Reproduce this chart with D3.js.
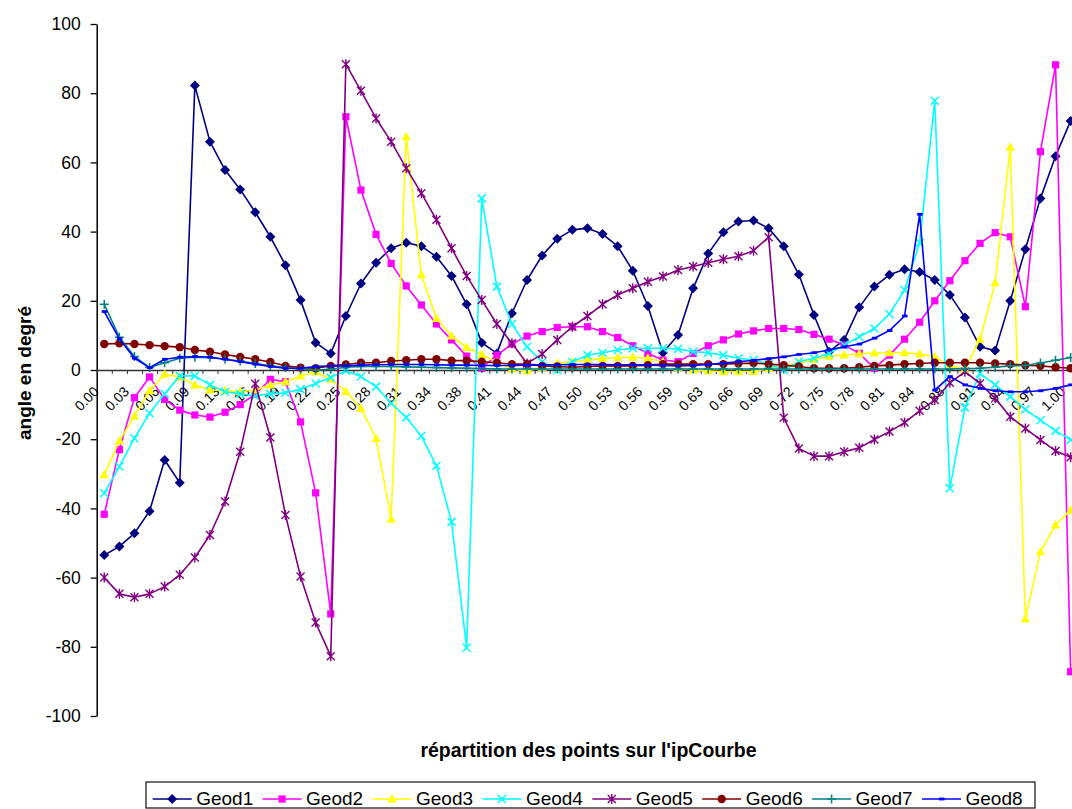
<!DOCTYPE html>
<html><head><meta charset="utf-8">
<script src="https://cdn.jsdelivr.net/npm/d3@7"></script>
<style>body{margin:0;background:#fff} svg{display:block;font-family:"Liberation Sans",Arial,sans-serif}</style>
</head><body><svg id="c" width="1072" height="809"></svg>
<script>
const categories = ["0.00","0.02","0.03","0.05","0.06","0.08","0.09","0.11","0.13","0.14",
"0.16","0.17","0.19","0.20","0.22","0.23","0.25","0.27","0.28","0.30",
"0.31","0.33","0.34","0.36","0.38","0.39","0.41","0.42","0.44","0.45",
"0.47","0.48","0.50","0.52","0.53","0.55","0.56","0.58","0.59","0.61",
"0.63","0.64","0.66","0.67","0.69","0.70","0.72","0.73","0.75","0.77",
"0.78","0.80","0.81","0.83","0.84","0.86","0.88","0.89","0.91","0.92",
"0.94","0.95","0.97","0.98","1.00"];
const yTicks = [-100,-80,-60,-40,-20,0,20,40,60,80,100];
const yTickLabels = ["-100","-80","-60","-40","-20","0","20","40","60","80","100"];
const seriesNames = ["Geod1","Geod2","Geod3","Geod4","Geod5","Geod6","Geod7","Geod8"];
const geod1 = [-53.5,-51,-47.2,-40.8,-26,-32.6,82.2,66,57.8,52.2,
45.6,38.5,30.3,20.2,7.9,4.8,15.6,25,31,35.2,
36.8,35.8,32.7,27.2,19,7.9,4.8,16.4,26,33.1,
37.9,40.5,41,39.3,35.8,28.7,18.5,5,10.1,23.6,
33.7,39.8,42.9,43.2,41,35.8,27.6,15.9,5.3,8.7,
18.1,24.1,27.5,29.1,28.3,26,21.7,15.2,6.7,5.6,
20,34.9,49.6,61.8,72];
const geod2 = [-41.7,-23,-8,-2,-8.5,-11.6,-13,-13.6,-12.2,-10,
-7,-2.7,-3.4,-15,-35.5,-70.5,73.2,52,39.2,30.8,
24.3,18.8,13.3,8.7,4,0.5,4.3,7.5,9.8,11.1,
12.3,12.5,12.5,11.1,9.4,7,4.8,2.9,2.4,4.8,
7,8.7,10.4,11.3,12,12,11.7,10.3,8.9,7.2,
4.8,0.5,4.3,8.9,13.8,20,25.8,31.6,36.6,39.7,
38.5,18.3,63.1,88.2,-87.2];
const geod3 = [-30.3,-20.5,-13.3,-6,-1.2,-2,-4.3,-5.8,-6,-6.2,
-5.8,-4.3,-3.4,-1.7,-0.5,-2.7,-6.2,-11.1,-19.8,-43.1,
67.4,27.5,14.9,9.8,6.5,4.5,2.2,0.3,-0.3,0.8,
2,2.4,2.9,3.3,3.6,3.7,3.4,2.4,0.8,0,
-0.3,-0.5,-0.5,-0.4,0.4,1.2,2,3,4,4.3,
4.7,4.9,5,5,4.6,3.8,1.2,0.2,8.9,25.2,
64.4,-72,-52.5,-44.8,-40.5];
const geod4 = [-35.6,-27.9,-19.7,-12.5,-6.9,-1.7,-1.7,-4.3,-6.3,-6.9,
-7.5,-6.9,-6.6,-5.6,-3.9,-2.2,-0.2,-1.9,-4.8,-9.6,
-13.7,-19.1,-27.7,-43.9,-80.3,49.6,24.1,13.3,6.7,2.4,
0,2.4,4.3,5,5.8,6.3,6.3,6.3,6.1,5.3,
5,4.3,3.4,2.9,1.7,0,2.4,3.4,4.8,7.2,
9.6,12,16.2,23.1,36.8,77.8,-34.2,-10.8,-1,-4.3,
-7.7,-11.4,-14.5,-17.6,-20.2];
const geod5 = [-60,-64.7,-65.7,-64.7,-62.6,-59.2,-54.2,-47.7,-38,-23.6,
-4,-19.5,-41.9,-59.7,-73,-82.7,88.4,80.7,72.7,66,
58.3,51.1,43.4,35.2,27.2,20.2,13.3,7.7,1.9,4.6,
8.7,12.5,15.6,19,21.7,23.6,25.5,27,28.9,29.9,
31,32,32.9,34.5,38.4,-13.8,-22.7,-24.9,-24.9,-23.6,
-22.5,-20.1,-17.8,-15.2,-11.8,-8.7,-3.7,-0.5,-3.9,-8.2,
-13.5,-16.9,-20.2,-23.4,-25.2];
const geod6 = [7.5,7.7,7.5,7.2,6.9,6.6,5.8,5.3,4.5,3.8,
3.1,2.3,1.2,0.7,0.5,1.2,1.6,2.1,2.1,2.6,
2.8,3.1,3.1,2.7,2.7,2.4,2.1,1.7,1.7,1.2,
1,0.8,1,1.2,1.2,1.2,1.4,1.7,1.7,1.7,
1.7,1.7,1.9,2,1.7,1.4,1,0.5,0.5,0.5,
0.8,1.2,1.4,1.7,1.9,2.1,2.1,2.1,2.1,1.9,
1.7,1.4,1.2,0.8,0.5];
const geod7 = [19,9.5,3.9,0.7,2.1,3.4,3.7,3.6,3.1,2.6,
1.9,1.2,0.7,0.2,0,0.2,0.8,1,1,1,
0.9,0.8,0.7,0.6,0.5,0.4,0.3,0.3,0.3,0.3,
0.3,0.3,0.3,0.3,0.3,0.3,0.3,0.3,0.3,0.3,
0.3,0.3,0.3,0.3,0.3,0.3,0.3,0.3,0.3,0.3,
0.3,0.3,0.3,0.3,0.3,0.3,0.3,0.4,0.5,0.8,
1.2,1.3,2,2.8,3.6];
const geod8 = [16.9,9,3.4,0.7,3.1,3.7,3.9,3.7,3.1,2.4,
1.7,1,0.5,0.5,1,1.2,1.2,1.4,1.5,1.6,
1.6,1.6,1.5,1.4,1.4,1.3,1.3,1.3,1.4,1.5,
1.5,1.6,1.6,1.6,1.5,1.5,1.4,1.3,1.2,1.3,
1.6,2,2.4,2.8,3.3,3.8,4.5,5,5.8,6.7,
7.5,9.2,11.4,15.6,45,-5.8,-1.9,-4.3,-5.3,-6,
-6.3,-6.3,-6,-5.3,-4.3];

const seriesValues = [geod1,geod2,geod3,geod4,geod5,geod6,geod7,geod8];
const colors = ["#000080","#FF00FF","#FFFF00","#00FFFF","#800080","#800000","#008080","#0000FF"];
const markers = ["diamond","square","triangle","x","star","circle","plus","dash"];

const svg = d3.select("#c");
const x = d3.scaleBand().domain(d3.range(categories.length)).range([96.7, 1078.2]);
const xb = d3.scaleLinear().domain([0, categories.length]).range([96.7, 1078.2]);
const cx = i => x(i) + x.bandwidth() / 2;
const y = d3.scaleLinear().domain([-100, 100]).range([716, 24]);

// Y axis
const yAxis = svg.append("g").attr("transform", "translate(96.7,0)")
  .call(d3.axisLeft(y).tickValues(yTicks).tickSize(6).tickSizeOuter(0).tickPadding(10)
    .tickFormat((d, i) => yTickLabels[i]));
yAxis.select(".domain").attr("stroke", "#000").attr("stroke-width", 1.5);
yAxis.selectAll(".tick line").attr("stroke", "#000").attr("stroke-width", 1.3);
yAxis.selectAll("text").attr("font-size", "17.5px").attr("fill", "#000")
  .attr("font-family", '"Liberation Sans",Arial,sans-serif');

// X axis (ticks at category boundaries)
const xAxis = svg.append("g").attr("transform", `translate(0,${y(0)})`)
  .call(d3.axisBottom(xb).tickValues(d3.range(categories.length + 1)).tickSize(4).tickSizeOuter(0).tickFormat(""));
xAxis.select(".domain").attr("stroke", "#333").attr("stroke-width", 1.5);
xAxis.selectAll(".tick line").attr("stroke", "#333").attr("stroke-width", 1);

// X labels every other category
svg.append("g").selectAll("text")
  .data(categories.map((c, i) => ({c, i})).filter(d => d.i % 2 === 0))
  .join("text")
  .attr("transform", d => `translate(${cx(d.i) - 4.5},${y(0) + 22.5}) rotate(-45)`)
  .attr("text-anchor", "end")
  .attr("font-size", "14px")
  .attr("fill", "#000")
  .text(d => d.c);

// Axis titles
svg.append("text").attr("transform", `translate(30.5,373) rotate(-90)`)
  .attr("text-anchor", "middle").attr("font-weight", "bold").attr("font-size", "19px")
  .text("angle en degré");
svg.append("text").attr("x", 588.5).attr("y", 757)
  .attr("text-anchor", "middle").attr("font-weight", "bold").attr("font-size", "19.5px")
  .text("répartition des points sur l'ipCourbe");

function drawMarker(g, type, color) {
  switch (type) {
    case "diamond": g.append("path").attr("d", "M0,-5L5,0L0,5L-5,0Z").attr("fill", color); break;
    case "square": g.append("rect").attr("x", -3.6).attr("y", -3.6).attr("width", 7.2).attr("height", 7.2).attr("fill", color); break;
    case "triangle": g.append("path").attr("d", "M0,-5L4.7,3.5L-4.7,3.5Z").attr("fill", color); break;
    case "x": g.append("path").attr("d", "M-4,-4L4,4M-4,4L4,-4").attr("stroke", color).attr("stroke-width", 1.5).attr("fill", "none"); break;
    case "star": g.append("path").attr("d", "M-4,-4L4,4M-4,4L4,-4M0,-5L0,5").attr("stroke", color).attr("stroke-width", 1.4).attr("fill", "none"); break;
    case "circle": g.append("circle").attr("r", 4.2).attr("fill", color); break;
    case "plus": g.append("path").attr("d", "M-4.5,0L4.5,0M0,-4.5L0,4.5").attr("stroke", color).attr("stroke-width", 1.5).attr("fill", "none"); break;
    case "dash": g.append("rect").attr("x", -2.5).attr("y", -1.4).attr("width", 5.5).attr("height", 2.8).attr("fill", color); break;
  }
}

const line = d3.line().x((d, i) => cx(i)).y(d => y(d));
const plot = svg.append("g");
seriesValues.forEach((vals, s) => {
  const g = plot.append("g");
  g.append("path").datum(vals).attr("d", line).attr("fill", "none")
    .attr("stroke", colors[s]).attr("stroke-width", 1.6).attr("stroke-linejoin", "round");
  vals.forEach((v, i) => {
    const m = g.append("g").attr("transform", `translate(${cx(i)},${y(v)})`);
    drawMarker(m, markers[s], colors[s]);
  });
});

// Legend
const lg = svg.append("g");
lg.append("rect").attr("x", 146).attr("y", 782).attr("width", 889).attr("height", 26)
  .attr("fill", "#fff").attr("stroke", "#222").attr("stroke-width", 1.3);
seriesNames.forEach((name, s) => {
  const x0 = 152.7 + 109.9 * s;
  const e = lg.append("g");
  e.append("line").attr("x1", x0).attr("x2", x0 + 39).attr("y1", 799).attr("y2", 799)
    .attr("stroke", colors[s]).attr("stroke-width", 1.6);
  drawMarker(e.append("g").attr("transform", `translate(${x0 + 19.5},799)`), markers[s], colors[s]);
  e.append("text").attr("x", x0 + 43.5).attr("y", 805).attr("font-size", "19px").attr("fill", "#000").text(name);
});
</script></body></html>
